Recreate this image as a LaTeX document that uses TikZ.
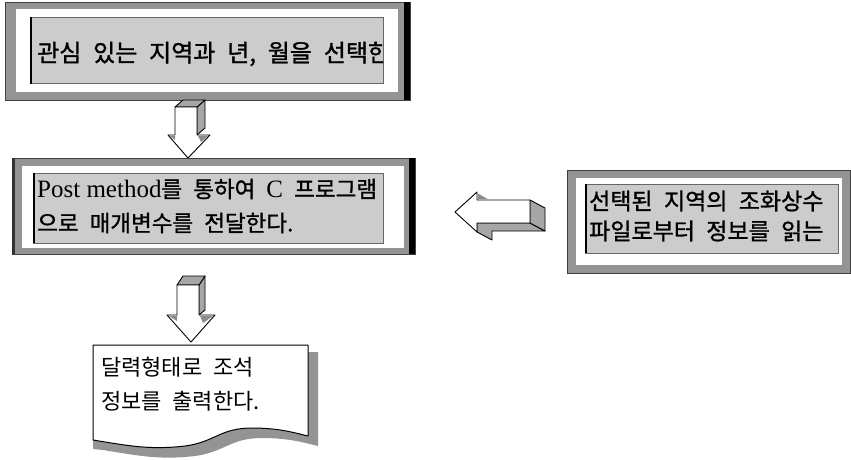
\documentclass[tikz,border=0pt]{standalone}
\usepackage{fontspec}
\newfontfamily\kr[WordSpace=2.2]{Noto Sans CJK KR}
\newfontfamily\krb[WordSpace=2.2, FakeBold=1.2]{Noto Sans CJK KR}
\newfontfamily\lat{Liberation Serif}
\tikzset{
  frame/.style={fill=black!42, draw=black!75, line width=0.6pt, inner sep=0pt},
  band/.style={fill=white},
  innerbox/.style={fill=black!20, draw=black!60, line width=0.6pt, inner sep=0pt},
  leftedge/.style={line width=2pt, black},
  face/.style={fill=white, draw=black, line width=0.9pt, line join=round},
  shadeface/.style={fill=black!35, draw=black, line width=0.9pt, line join=round},
  boxtext/.style={inner sep=0pt, align=left, anchor=west, text=black},
}
\begin{document}
\begin{tikzpicture}[x=1pt,y=-1pt]
\useasboundingbox (0,0) rectangle (851,459);

% ---------- Box 1 ----------
\node[frame, anchor=north west, minimum width=405pt, minimum height=98pt] (b1) at (5,2) {};
\fill[black] (404,2) rectangle (410,100);
\fill[band] (16,9) rectangle (398,92);
\node[innerbox, anchor=north west, minimum width=353pt, minimum height=66pt] (b1in) at (30,17) {};
\draw[leftedge] (31,17) -- (31,84);
\begin{scope}
  \clip (30,17) rectangle (383,83);
  \node[boxtext, font=\krb\fontsize{24}{28}\selectfont] (t1) at (37,54) {관심 있는 지역과 년, 월을 선택한};
\end{scope}

% ---------- Down arrow 1 ----------
\draw[shadeface] (197,107) -- (205,100) -- (205,128) -- (197,135) -- cycle;
\draw[shadeface] (175,107) -- (183,100) -- (205,100) -- (197,107) -- cycle;
\draw[face] (175,107) -- (197,107) -- (197,135) -- (210,135) -- (188,158) -- (168,135) -- (175,135) -- cycle;
\fill[black!45] (169.5,135.8) -- (175,135.8) -- (175,140) -- cycle;
\fill[black!45] (198,135.8) -- (208.5,135.8) -- (201,142) -- cycle;

% ---------- Box 2 ----------
\node[frame, anchor=north west, minimum width=403pt, minimum height=96pt] (b2) at (12,158) {};
\fill[black] (409,158) rectangle (415,254);
\fill[black!80] (12,158) rectangle (14.5,254);
\fill[band] (22,166) rectangle (404,248);
\node[innerbox, anchor=north west, minimum width=350pt, minimum height=70pt] (b2in) at (33,173) {};
\draw[leftedge] (34,173) -- (34,243);
\node[boxtext, font=\krb\fontsize{22.5}{34}\selectfont] (t2) at (37,206)
  {{\lat\fontsize{25}{34}\selectfont Post method}를 통하여 {\lat\fontsize{25}{34}\selectfont C} 프로그램\\으로 매개변수를 전달한다.};

% ---------- Left arrow ----------
\draw[shadeface] (477,223) -- (530,223) -- (545,231) -- (492,231) -- (492,240) -- (477,232) -- cycle;
\draw[shadeface] (530,200) -- (545,208) -- (545,231) -- (530,223) -- cycle;
\draw[face] (455,212) -- (477,192) -- (477,200) -- (530,200) -- (530,223) -- (477,223) -- (477,232) -- cycle;
\fill[black!45] (477.8,193.5) -- (488,199.2) -- (477.8,199.2) -- cycle;

% ---------- Box 3 ----------
\node[frame, anchor=north west, minimum width=283pt, minimum height=103pt] (b3) at (567,170) {};
\fill[band] (576,178) rectangle (842,265);
\node[innerbox, anchor=north west, minimum width=253pt, minimum height=69pt] (b3in) at (585,184) {};
\draw[leftedge] (586,184) -- (586,253);
\node[boxtext, font=\krb\fontsize{23}{30}\selectfont] (t3) at (589,216)
  {선택된 지역의 조화상수\\파일로부터 정보를 읽는};

% ---------- Down arrow 2 ----------
\draw[shadeface] (199,285) -- (205,276) -- (205,310) -- (199,315) -- cycle;
\draw[shadeface] (177,285) -- (183,276) -- (205,276) -- (199,285) -- cycle;
\draw[face] (177,285) -- (199,285) -- (199,315) -- (215,315) -- (191,342) -- (167,315) -- (177,315) -- cycle;
\fill[black!45] (168.5,315.8) -- (177,315.8) -- (177,321) -- cycle;
\fill[black!45] (200,315.8) -- (213.5,315.8) -- (203,323) -- cycle;

% ---------- Document ----------
\fill[black!42] (100,352) -- (318,352) -- (318,446) .. controls (305,443) and (290,438) .. (262,438)
   .. controls (230,438) and (225,452) .. (195,456) .. controls (160,460) and (140,456) .. (103,450)
   -- (93,449) -- (93,440) -- cycle;
\draw[face, line width=1pt] (93,345) -- (308,345) -- (308,436) .. controls (295,433) and (280,428) .. (252,428)
   .. controls (220,428) and (215,442) .. (185,446) .. controls (150,450) and (130,446) .. (93,440) -- cycle;
\node[boxtext, font=\kr\fontsize{22}{34}\selectfont] (t4) at (101,384)
  {달력형태로 조석\\정보를 출력한다.};
\end{tikzpicture}
\end{document}
